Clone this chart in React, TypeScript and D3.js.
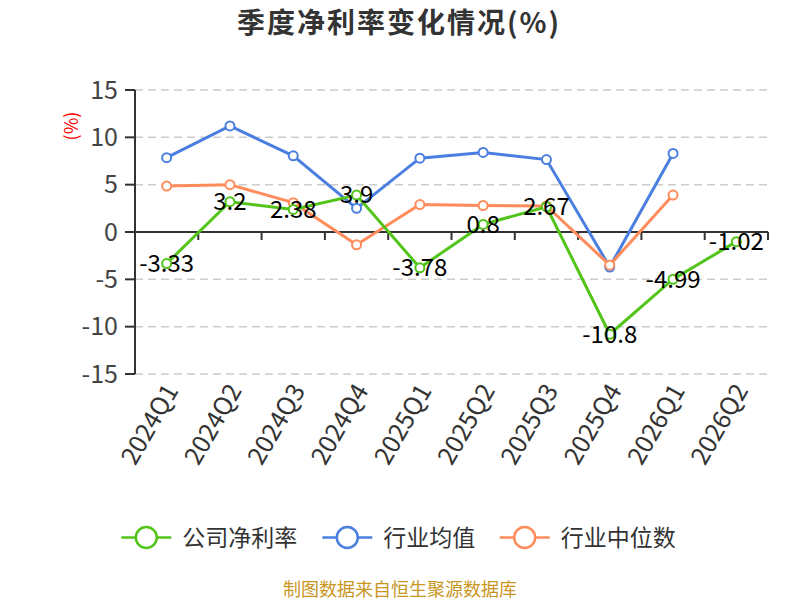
import React from "react";
import * as d3 from "d3";

const categories = ["2024Q1","2024Q2","2024Q3","2024Q4","2025Q1","2025Q2","2025Q3","2025Q4","2026Q1","2026Q2"];
const companyValues: (number | null)[] = [-3.33, 3.2, 2.38, 3.9, -3.78, 0.8, 2.67, -10.8, -4.99, -1.02];
const industryAvg: (number | null)[] = [7.85, 11.2, 8.05, 2.5, 7.8, 8.4, 7.65, -3.7, 8.3, null];
const industryMedian: (number | null)[] = [4.85, 5.0, 3.1, -1.35, 2.9, 2.8, 2.75, -3.5, 3.9, null];
const yTicks = [-15, -10, -5, 0, 5, 10, 15];
const seriesNames = ["公司净利率", "行业均值", "行业中位数"];
const seriesColors = ["#52c41a", "#4a7fe0", "#ff8c5a"];

const FONT = "'Noto Sans CJK SC', 'Noto Sans', sans-serif";

export default function App() {
  const W = 800, H = 600;
  const left = 135, right = 768, top = 90, bottom = 374;
  const x = d3.scaleBand<string>().domain(categories).range([left, right]);
  const y = d3.scaleLinear().domain([-15, 15]).range([bottom, top]);
  const cx = (c: string) => (x(c) as number) + x.bandwidth() / 2;

  const series = [
    { name: seriesNames[1], color: seriesColors[1], values: industryAvg },
    { name: seriesNames[2], color: seriesColors[2], values: industryMedian },
    { name: seriesNames[0], color: seriesColors[0], values: companyValues },
  ];

  const line = d3
    .line<[string, number | null]>()
    .defined((d) => d[1] !== null)
    .x((d) => cx(d[0]))
    .y((d) => y(d[1] as number));

  // legend layout
  const charW = 23.6;
  const legendItems: { name: string; color: string; x: number }[] = [];
  {
    const widths = seriesNames.map((n) => 50 + 11 + n.length * charW);
    const total = widths.reduce((a, b) => a + b, 0) + 22 * (widths.length - 1);
    let lx = 400 - total / 2;
    seriesNames.forEach((n, i) => {
      legendItems.push({ name: n, color: seriesColors[i], x: lx });
      lx += widths[i] + 22;
    });
  }

  return (
    <svg width={W} height={H} style={{ position: "absolute", left: 0, top: 0, fontFamily: FONT }}>
      <rect width={W} height={H} fill="#fff" />
      <text x={399} y={33} textAnchor="middle" fontSize={28} fontWeight="bold" fill="#333" letterSpacing={2}>
        季度净利率变化情况(%)
      </text>

      {/* grid */}
      {yTicks.filter((t) => t !== 0).map((t) => (
        <line key={"g" + t} x1={left} x2={right} y1={y(t)} y2={y(t)} stroke="#ccc" strokeWidth={1.5} strokeDasharray="8,5" />
      ))}

      {/* y axis */}
      <line x1={left} x2={left} y1={top} y2={bottom} stroke="#333" strokeWidth={2} />
      {yTicks.map((t) => (
        <g key={"yt" + t}>
          <line x1={left - 10} x2={left} y1={y(t)} y2={y(t)} stroke="#333" strokeWidth={2} />
          <text x={left - 17} y={y(t)} dy="0.35em" textAnchor="end" fontSize={25} fill="#444">
            {t}
          </text>
        </g>
      ))}
      <text transform={`translate(72,126) rotate(-90)`} textAnchor="middle" dy="0.35em" fontSize={18} fill="#ff0000">
        (%)
      </text>

      {/* x axis at zero */}
      <line x1={left} x2={right} y1={y(0)} y2={y(0)} stroke="#333" strokeWidth={2} />
      {categories.map((c) => (
        <line key={"xt" + c} x1={(x(c) as number) + x.bandwidth()} x2={(x(c) as number) + x.bandwidth()} y1={y(0)} y2={y(0) + 8} stroke="#333" strokeWidth={2} />
      ))}
      <line x1={left} x2={left} y1={y(0)} y2={y(0) + 8} stroke="#333" strokeWidth={2} />
      {categories.map((c) => (
        <text key={"xl" + c} transform={`translate(${cx(c) + 5},${bottom + 12}) rotate(-60)`} textAnchor="end" dy="0.35em" fontSize={25} fill="#333">
          {c}
        </text>
      ))}

      {/* lines */}
      {series.map((s) => (
        <path key={"l" + s.name} d={line(categories.map((c, i) => [c, s.values[i]])) || ""} fill="none" stroke={s.color} strokeWidth={3} />
      ))}
      {series.map((s) =>
        categories.map((c, i) =>
          s.values[i] === null ? null : (
            <circle key={"p" + s.name + c} cx={cx(c)} cy={y(s.values[i] as number)} r={4.5} fill="#fff" stroke={s.color} strokeWidth={2} />
          )
        )
      )}
      {categories.map((c, i) => (
        <text key={"dl" + c} x={cx(c)} y={y(companyValues[i] as number)} dy="0.35em" textAnchor="middle" fontSize={24} fill="#000">
          {companyValues[i]}
        </text>
      ))}

      {/* legend */}
      {legendItems.map((it) => (
        <g key={"lg" + it.name}>
          <line x1={it.x} x2={it.x + 50} y1={537.5} y2={537.5} stroke={it.color} strokeWidth={2.5} />
          <circle cx={it.x + 25} cy={537.5} r={10.5} fill="#fff" stroke={it.color} strokeWidth={2.5} />
          <text x={it.x + 61} y={537.5} dy="0.35em" fontSize={23} fill="#333">
            {it.name}
          </text>
        </g>
      ))}

      <text x={400} y={590} textAnchor="middle" dy="0.35em" fontSize={18} fill="#c8961e">
        制图数据来自恒生聚源数据库
      </text>
    </svg>
  );
}
